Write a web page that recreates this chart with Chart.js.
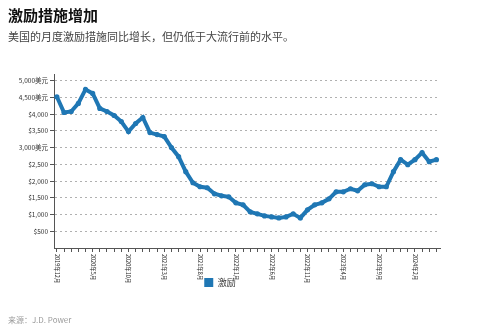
<!DOCTYPE html>
<html>
<head>
<meta charset="utf-8">
<script src="https://cdn.jsdelivr.net/npm/chart.js@4"></script>
<style>
  html, body { margin:0; padding:0; background:#fff; }
  body { width:480px; height:335px; position:relative; overflow:hidden; font-family:"Noto Sans CJK SC","Noto Sans",sans-serif; }
  #title { position:absolute; left:8px; top:5px; font-size:15px; font-weight:bold; color:#111; line-height:20px; }
  #subtitle { position:absolute; left:8px; top:29px; font-size:11px; color:#444; line-height:15px; }
  #source { position:absolute; left:8px; top:314px; font-size:8px; color:#999; line-height:12px; }
  #wrap { position:absolute; left:0; top:0; width:480px; height:335px; }
</style>
</head>
<body>
<div id="wrap"><canvas id="c" width="480" height="335"></canvas></div>
<div id="title">激励措施增加</div>
<div id="subtitle">美国的月度激励措施同比增长，但仍低于大流行前的水平。</div>
<div id="source">来源：J.D. Power</div>
<script>
const months = [
  "2019年12月","2020年1月","2020年2月","2020年3月","2020年4月","2020年5月","2020年6月","2020年7月","2020年8月","2020年9月","2020年10月","2020年11月",
  "2020年12月","2021年1月","2021年2月","2021年3月","2021年4月","2021年5月","2021年6月","2021年7月","2021年8月","2021年9月","2021年10月","2021年11月",
  "2021年12月","2022年1月","2022年2月","2022年3月","2022年4月","2022年5月","2022年6月","2022年7月","2022年8月","2022年9月","2022年10月","2022年11月",
  "2022年12月","2023年1月","2023年2月","2023年3月","2023年4月","2023年5月","2023年6月","2023年7月","2023年8月","2023年9月","2023年10月","2023年11月",
  "2023年12月","2024年1月","2024年2月","2024年3月","2024年4月","2024年5月"
];
const incentives = [
  4520, 4050, 4080, 4320, 4740, 4620, 4170, 4080, 3960, 3780, 3480, 3720,
  3900, 3450, 3390, 3330, 3000, 2730, 2280, 1950, 1830, 1800, 1620, 1560,
  1530, 1350, 1290, 1080, 1020, 960, 930, 900, 930, 1020, 900, 1140,
  1290, 1350, 1470, 1680, 1680, 1770, 1710, 1890, 1920, 1830, 1830, 2280,
  2640, 2490, 2640, 2850, 2580, 2640
];
const yTickValues = [500, 1000, 1500, 2000, 2500, 3000, 3500, 4000, 4500, 5000];
const yTickLabels = ["$500", "$1,000", "$1,500", "$2,000", "$2,500", "3,000美元", "$3,500", "$4,000", "4,500美元", "5,000美元"];
const seriesName = "激励";
const labelEvery = 5;

const FONT = '"Noto Sans CJK SC","Noto Sans",sans-serif';
const BLUE = '#1f77b4';

const xLabelPlugin = {
  id: 'xLabels',
  afterDraw(chart) {
    const xs = chart.scales.x;
    const ctx = chart.ctx;
    ctx.save();
    ctx.font = '5.5px ' + FONT;
    ctx.fillStyle = '#222';
    ctx.textAlign = 'left';
    ctx.textBaseline = 'middle';
    months.forEach((m, i) => {
      if (i % labelEvery !== 0) return;
      const x = xs.getPixelForValue(i);
      const y = xs.top + 6;
      ctx.save();
      ctx.translate(x, y);
      ctx.rotate(Math.PI / 2);
      ctx.fillText(m, 0, 0);
      ctx.restore();
    });
    ctx.restore();
  }
};

new Chart(document.getElementById('c'), {
  type: 'line',
  data: {
    datasets: [{
      label: seriesName,
      data: incentives.map((v, i) => ({ x: i, y: v })),
      borderColor: BLUE,
      backgroundColor: BLUE,
      pointBackgroundColor: BLUE,
      pointBorderColor: BLUE,
      borderWidth: 4,
      pointRadius: 2.6,
      pointBorderWidth: 0,
      tension: 0
    }]
  },
  options: {
    responsive: false,
    animation: false,
    events: [],
    layout: { padding: { top: 74, right: 40, left: 0, bottom: 38 } },
    plugins: {
      tooltip: { enabled: false },
      legend: {
        position: 'bottom',
        labels: {
          boxWidth: 9, boxHeight: 9, padding: 6,
          color: '#333',
          font: { size: 9, family: FONT },
          generateLabels(chart) {
            return Chart.defaults.plugins.legend.labels.generateLabels(chart).map(l => Object.assign(l, { lineWidth: 0, strokeStyle: BLUE, fillStyle: BLUE }));
          }
        }
      }
    },
    scales: {
      x: {
        type: 'linear',
        min: -0.4,
        max: 53.5,
        afterBuildTicks(scale) { scale.ticks = months.map((m, i) => ({ value: i })); },
        afterFit(scale) { scale.height = 24; },
        ticks: { display: false, autoSkip: false },
        grid: { drawOnChartArea: false, drawTicks: true, tickLength: 4, tickColor: '#555', tickWidth: 1 },
        border: { color: '#555', width: 1 }
      },
      y: {
        min: 0,
        max: 5200,
        afterBuildTicks(scale) { scale.ticks = yTickValues.map(v => ({ value: v })); },
        afterFit(scale) { scale.width = 54; },
        ticks: {
          autoSkip: false,
          padding: 2,
          color: '#333',
          font: { size: 6.5, family: FONT },
          callback: (v) => { const k = yTickValues.indexOf(v); return k >= 0 ? yTickLabels[k] : ''; }
        },
        grid: { color: '#b0b0b0', lineWidth: 1, drawTicks: true, tickLength: 4, tickColor: '#555', tickBorderDash: [], tickWidth: 1 },
        border: { color: '#555', width: 1, dash: [2, 3] }
      }
    }
  },
  plugins: [xLabelPlugin]
});
</script>
</body>
</html>
